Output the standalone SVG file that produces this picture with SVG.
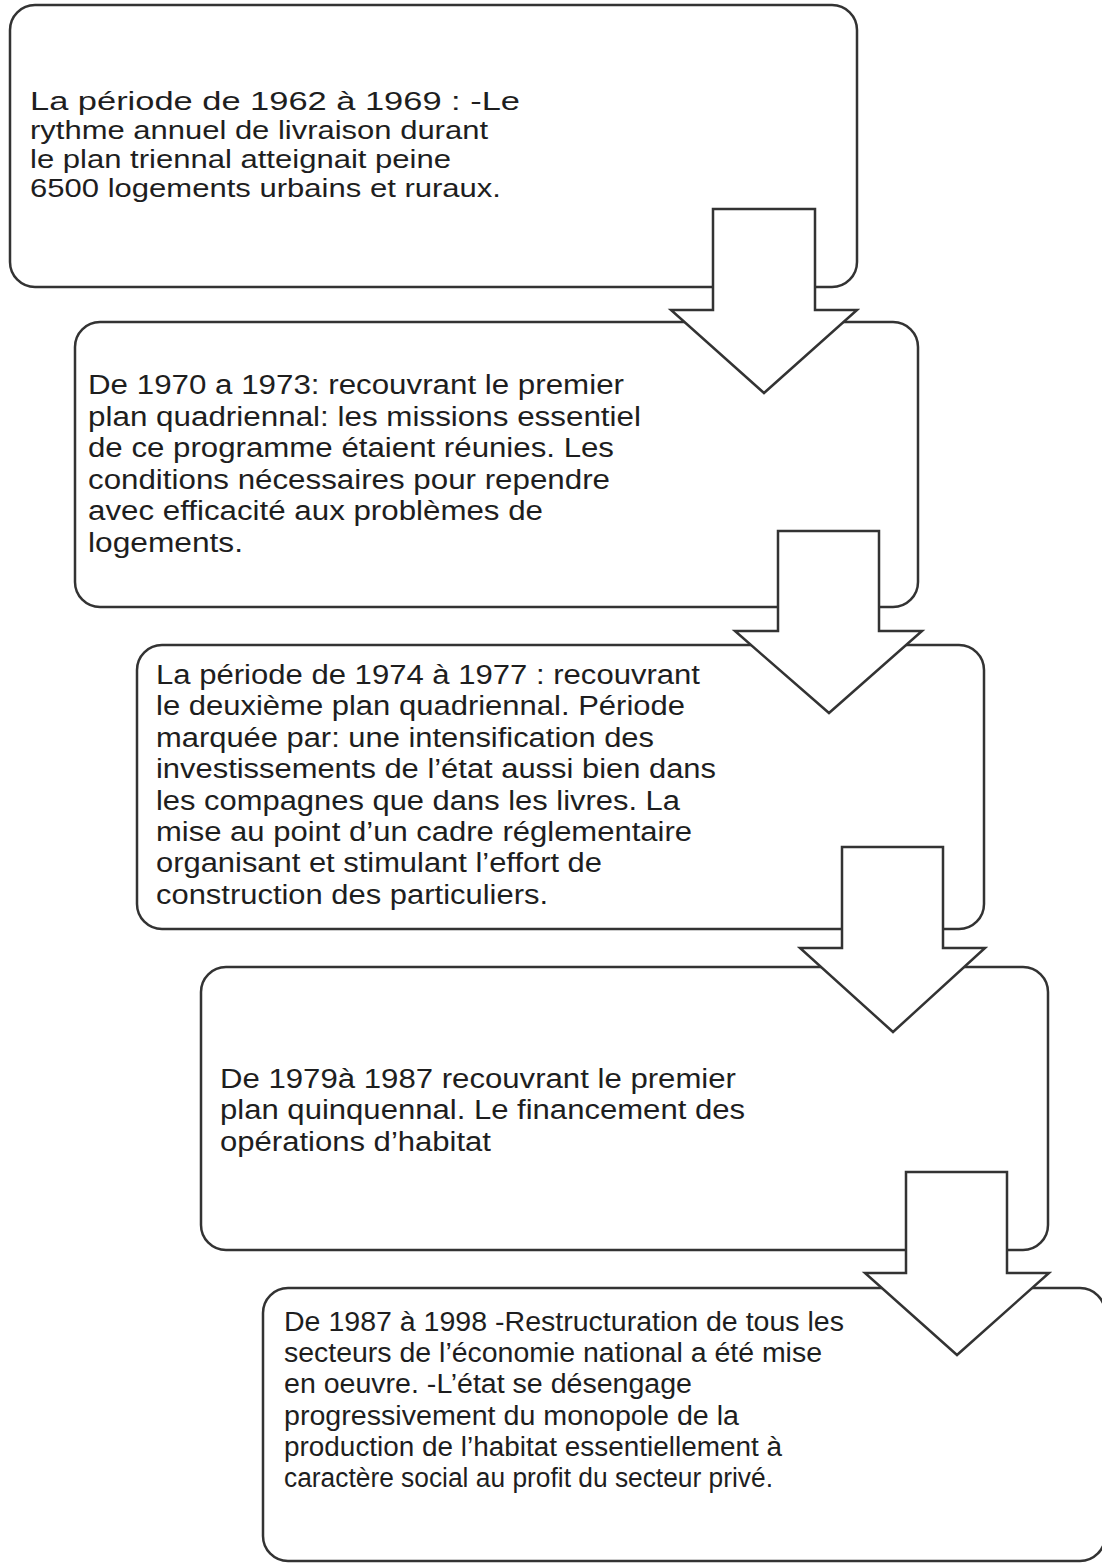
<svg xmlns="http://www.w3.org/2000/svg" width="1102" height="1568" viewBox="0 0 1102 1568">
<style>
.box{fill:#fff;stroke:#333;stroke-width:2.5}
.arr{fill:#fff;stroke:#333;stroke-width:2.5;stroke-linejoin:miter}
.t{font-family:"Liberation Sans",Arial,sans-serif;font-size:27px;fill:#1e1e1e}
.t1{font-size:26px}
</style>
<rect width="1102" height="1568" fill="#fff"/>
<g id="node1">
<rect class="box" x="10" y="5" width="847" height="282" rx="25"/>
<text class="t t1">
<tspan x="30" y="110" textLength="490" lengthAdjust="spacingAndGlyphs">La période de 1962 à 1969 : -Le</tspan>
<tspan x="30" y="139" textLength="458" lengthAdjust="spacingAndGlyphs">rythme annuel de livraison durant</tspan>
<tspan x="30" y="168" textLength="421" lengthAdjust="spacingAndGlyphs">le plan triennal atteignait peine</tspan>
<tspan x="30" y="197" textLength="471" lengthAdjust="spacingAndGlyphs">6500 logements urbains et ruraux.</tspan>
</text>
</g>
<g id="node2">
<rect class="box" x="75" y="322" width="843" height="285" rx="25"/>
<text class="t">
<tspan x="88" y="394" textLength="536" lengthAdjust="spacingAndGlyphs">De 1970 a 1973: recouvrant le premier</tspan>
<tspan x="88" y="425.5" textLength="553" lengthAdjust="spacingAndGlyphs">plan quadriennal: les missions essentiel</tspan>
<tspan x="88" y="457" textLength="526" lengthAdjust="spacingAndGlyphs">de ce programme étaient réunies. Les</tspan>
<tspan x="88" y="488.5" textLength="522" lengthAdjust="spacingAndGlyphs">conditions nécessaires pour rependre</tspan>
<tspan x="88" y="520" textLength="455" lengthAdjust="spacingAndGlyphs">avec efficacité aux problèmes de</tspan>
<tspan x="88" y="551.5" textLength="155" lengthAdjust="spacingAndGlyphs">logements.</tspan>
</text>
</g>
<g id="node3">
<rect class="box" x="137" y="645" width="847" height="284" rx="25"/>
<text class="t">
<tspan x="156" y="684" textLength="544" lengthAdjust="spacingAndGlyphs">La période de 1974 à 1977 : recouvrant</tspan>
<tspan x="156" y="715.4" textLength="529" lengthAdjust="spacingAndGlyphs">le deuxième plan quadriennal. Période</tspan>
<tspan x="156" y="746.8" textLength="498" lengthAdjust="spacingAndGlyphs">marquée par: une intensification des</tspan>
<tspan x="156" y="778.2" textLength="560" lengthAdjust="spacingAndGlyphs">investissements de l’état aussi bien dans</tspan>
<tspan x="156" y="809.6" textLength="524" lengthAdjust="spacingAndGlyphs">les compagnes que dans les livres. La</tspan>
<tspan x="156" y="841" textLength="536" lengthAdjust="spacingAndGlyphs">mise au point d’un cadre réglementaire</tspan>
<tspan x="156" y="872.4" textLength="446" lengthAdjust="spacingAndGlyphs">organisant et stimulant l’effort de</tspan>
<tspan x="156" y="903.8" textLength="392" lengthAdjust="spacingAndGlyphs">construction des particuliers.</tspan>
</text>
</g>
<g id="node4">
<rect class="box" x="201" y="967" width="847" height="283" rx="25"/>
<text class="t">
<tspan x="220" y="1088" textLength="516" lengthAdjust="spacingAndGlyphs">De 1979à 1987 recouvrant le premier</tspan>
<tspan x="220" y="1119.4" textLength="525" lengthAdjust="spacingAndGlyphs">plan quinquennal. Le financement des</tspan>
<tspan x="220" y="1150.8" textLength="271" lengthAdjust="spacingAndGlyphs">opérations d’habitat</tspan>
</text>
</g>
<g id="node5">
<rect class="box" x="263" y="1288" width="842" height="273" rx="25"/>
<text class="t">
<tspan x="284" y="1331" textLength="560" lengthAdjust="spacingAndGlyphs">De 1987 à 1998 -Restructuration de tous les</tspan>
<tspan x="284" y="1362.2" textLength="538" lengthAdjust="spacingAndGlyphs">secteurs de l’économie national a été mise</tspan>
<tspan x="284" y="1393.4" textLength="408" lengthAdjust="spacingAndGlyphs">en oeuvre. -L’état se désengage</tspan>
<tspan x="284" y="1424.6" textLength="455" lengthAdjust="spacingAndGlyphs">progressivement du monopole de la</tspan>
<tspan x="284" y="1455.8" textLength="498" lengthAdjust="spacingAndGlyphs">production de l’habitat essentiellement à</tspan>
<tspan x="284" y="1487" textLength="489" lengthAdjust="spacingAndGlyphs">caractère social au profit du secteur privé.</tspan>
</text>
</g>
<g id="connectors">
<polygon class="arr" points="713,209 815,209 815,310 857,310 764,393 671,310 713,310"/>
<polygon class="arr" points="778,531 879,531 879,631 922,631 829,713 735,631 778,631"/>
<polygon class="arr" points="842,847 943,847 943,948 985,948 893,1032 800,948 842,948"/>
<polygon class="arr" points="906,1172 1007,1172 1007,1273 1049,1273 957,1355 865,1273 906,1273"/>
</g>
</svg>
